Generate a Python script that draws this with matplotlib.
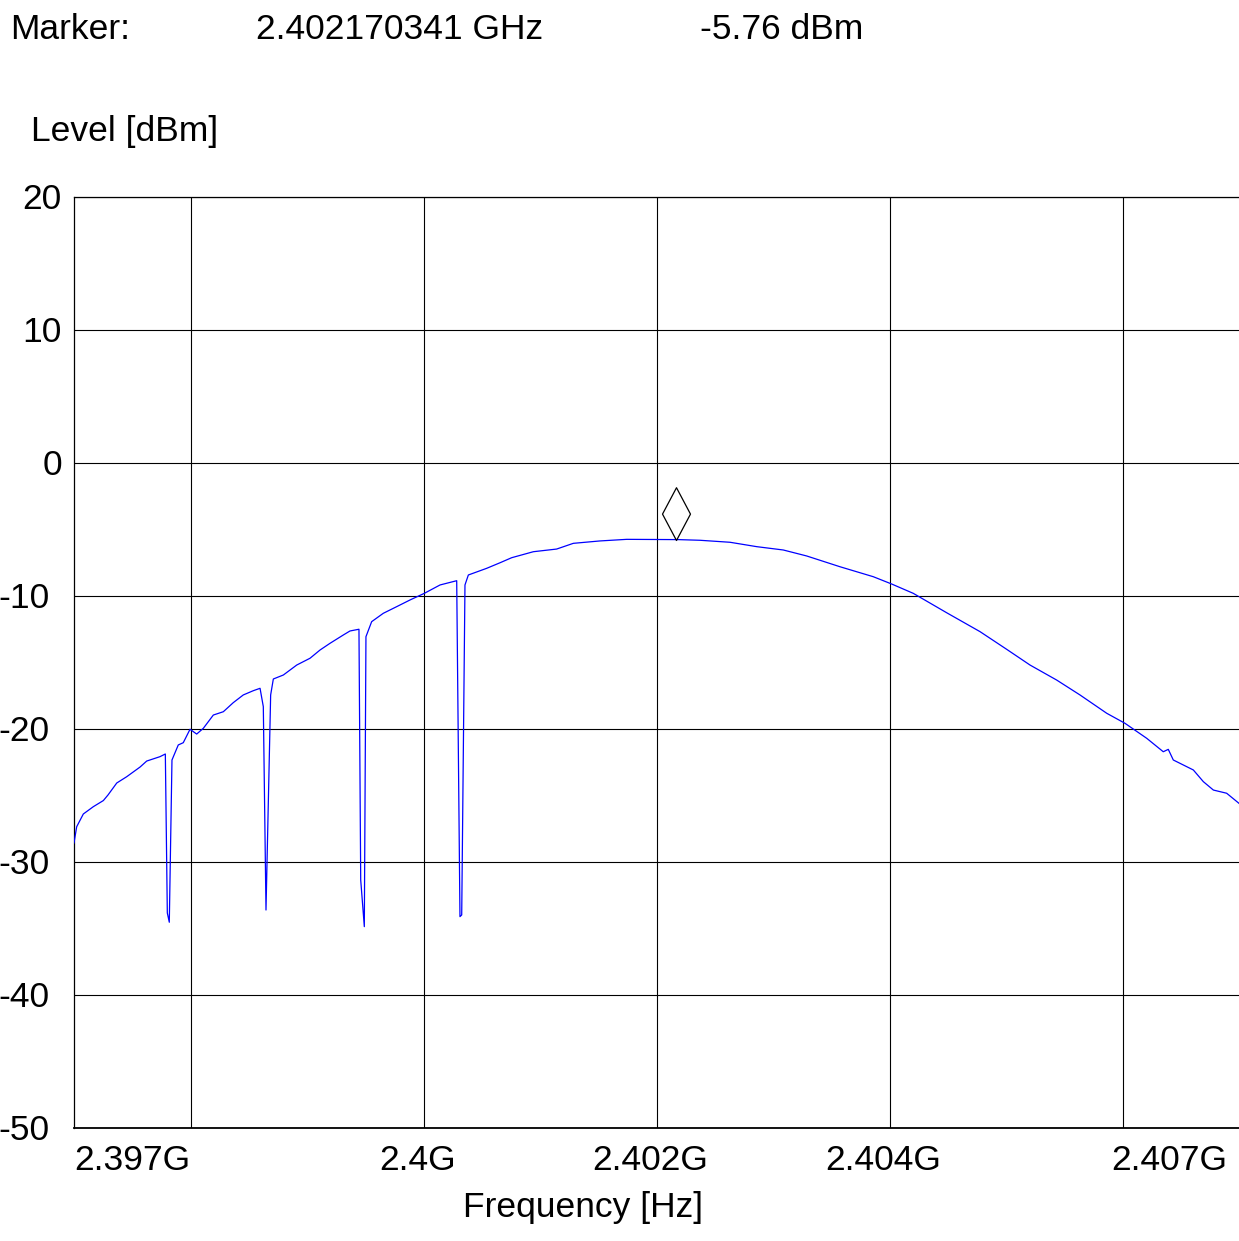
import matplotlib
matplotlib.use("Agg")
import matplotlib.pyplot as plt
import numpy as np
from matplotlib.path import Path
from matplotlib.transforms import blended_transform_factory, offset_copy

plt.rcParams["font.family"] = ["Liberation Sans", "DejaVu Sans"]

# trace: MHz above 2.397 GHz, level in dBm
offset_mhz = [
    0.000, 0.023, 0.080, 0.166, 0.252, 0.292, 0.367, 0.452, 0.567, 0.624,
    0.738, 0.784, 0.801, 0.818, 0.841, 0.895, 0.938, 0.996, 1.053, 1.110,
    1.196, 1.282, 1.367, 1.453, 1.539, 1.597, 1.625, 1.648, 1.688, 1.711,
    1.797, 1.912, 2.026, 2.112, 2.197, 2.312, 2.369, 2.446, 2.461, 2.492,
    2.506, 2.555, 2.655, 2.770, 2.884, 3.007, 3.142, 3.285, 3.313, 3.328,
    3.356, 3.385, 3.542, 3.657, 3.757, 3.943, 4.143, 4.286, 4.515, 4.744,
    5.187, 5.373, 5.631, 5.860, 6.088, 6.289, 6.575, 6.861, 7.019, 7.204,
    7.491, 7.777, 8.006, 8.206, 8.435, 8.635, 8.865, 9.021, 9.208, 9.350,
    9.393, 9.436, 9.608, 9.694, 9.780, 9.894, 10.000,
]
level_dbm = [
    -28.57, -27.35, -26.39, -25.84, -25.38, -24.96, -24.06, -23.59, -22.86, -22.41,
    -22.08, -21.88, -33.83, -34.53, -22.33, -21.20, -21.03, -20.02, -20.38, -19.95,
    -18.95, -18.70, -18.02, -17.44, -17.12, -16.94, -18.32, -33.61, -17.44, -16.24,
    -15.94, -15.19, -14.68, -14.06, -13.56, -12.93, -12.63, -12.50, -31.35, -34.86,
    -13.06, -11.93, -11.30, -10.80, -10.30, -9.80, -9.17, -8.85, -34.11, -33.98,
    -9.17, -8.42, -7.92, -7.50, -7.12, -6.67, -6.47, -6.04, -5.86, -5.74,
    -5.76, -5.81, -5.96, -6.29, -6.54, -6.99, -7.80, -8.55, -9.10, -9.80,
    -11.26, -12.68, -14.01, -15.19, -16.32, -17.44, -18.82, -19.57, -20.70, -21.71,
    -21.53, -22.33, -23.08, -23.96, -24.59, -24.83, -25.59,
]

start_ghz = 2.397
stop_ghz = 2.407
grid_freqs = [2.398, 2.400, 2.402, 2.404, 2.406]
level_ticks = [20, 10, 0, -10, -20, -30, -40, -50]
freq_labels = ["2.397G", "2.4G", "2.402G", "2.404G", "2.407G"]
freq_label_pos = [2.397, 2.400, 2.402, 2.404, 2.407]

marker_freq = 2.402170341
marker_level = -5.76

W, H = 1239, 1241
fs = 25.5

fig = plt.figure(figsize=(W / 100, H / 100), dpi=100)
ax = fig.add_axes([74 / W, 1 - 1128 / H, (1239 - 74) / W, (1128 - 197) / H])

freq = start_ghz + np.array(offset_mhz) / 1000.0
ax.plot(freq, level_dbm, color="#0000ff", lw=0.9, zorder=3)

# marker diamond sitting on the trace
diamond = Path([(0, 0), (0.53, 1), (0, 2), (-0.53, 1), (0, 0)],
               [Path.MOVETO, Path.LINETO, Path.LINETO, Path.LINETO, Path.CLOSEPOLY])
ax.plot([marker_freq], [marker_level], marker=diamond, markersize=76,
        markerfacecolor="none", markeredgecolor="black", markeredgewidth=0.9,
        zorder=4, clip_on=False)

ax.set_xlim(start_ghz, stop_ghz)
ax.set_ylim(-50, 20)
ax.set_xticks(grid_freqs)
ax.set_yticks(level_ticks)
ax.tick_params(length=0, labelbottom=False, labelleft=False)
ax.grid(True, color="black", lw=0.8)
ax.spines["right"].set_visible(False)
for side in ["left", "top"]:
    ax.spines[side].set_linewidth(0.9)
ax.spines["bottom"].set_linewidth(1.3)

ytrans = blended_transform_factory(ax.transAxes, ax.transData)
for v in level_ticks:
    dx = -12 if v >= 0 else -24
    ax.text(0, v, str(v), fontsize=fs, ha="right", va="baseline",
            transform=offset_copy(ytrans, fig, x=dx, y=-12, units="dots"))

xtrans = blended_transform_factory(ax.transData, ax.transAxes)
for i, (pos, lab) in enumerate(zip(freq_label_pos, freq_labels)):
    if i == 0:
        ha, dx = "left", 0
    elif i == len(freq_labels) - 1:
        ha, dx = "right", -12
    else:
        ha, dx = "center", -6
    ax.text(pos, 0, lab, fontsize=fs, ha=ha, va="baseline",
            transform=offset_copy(xtrans, fig, x=dx, y=-42, units="dots"))

fig.text(583 / W, 1 - 1217 / H, "Frequency [Hz]", fontsize=fs, ha="center", va="baseline")
fig.text(31 / W, 1 - 141 / H, "Level [dBm]", fontsize=fs, ha="left", va="baseline")

fig.text(10 / W, 1 - 39 / H, "Marker:", fontsize=fs, ha="left", va="baseline")
fig.text(256 / W, 1 - 39 / H, f"{marker_freq:.9f} GHz", fontsize=fs, ha="left", va="baseline")
fig.text(700 / W, 1 - 39 / H, f"{marker_level:.2f} dBm", fontsize=fs, ha="left", va="baseline")

fig.savefig("out.png", dpi=100)
